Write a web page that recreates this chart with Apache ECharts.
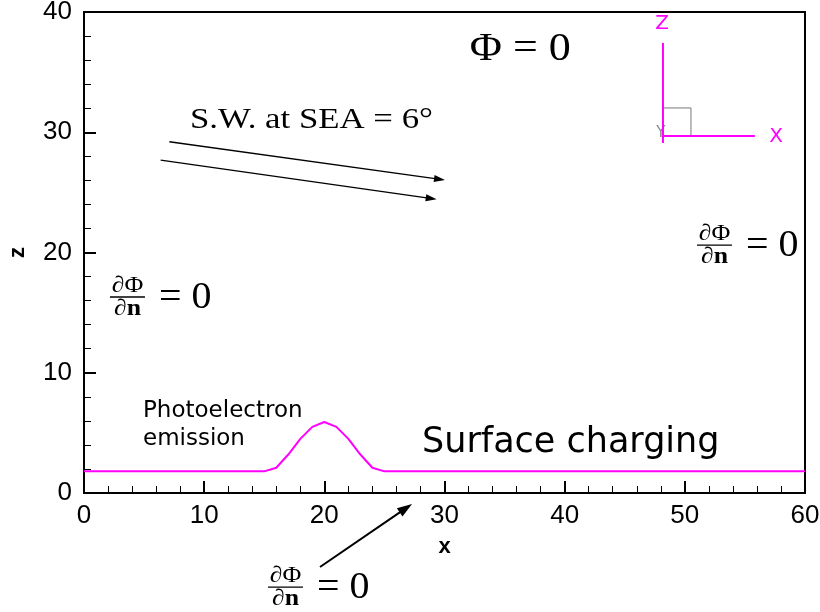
<!DOCTYPE html>
<html>
<head>
<meta charset="utf-8">
<script src="https://cdn.jsdelivr.net/npm/echarts@6/dist/echarts.min.js"></script>
<style>
  html, body { margin: 0; padding: 0; background: #fff; }
  #chart { width: 820px; height: 612px; }
</style>
</head>
<body>
<div id="chart"></div>
<script>
// Surface height z along x (emission bump centred at x = 20)
const xValues = [0, 15, 16, 17, 18, 19, 20, 21, 22, 23, 24, 25, 60];
const zValues = [1.8, 1.8, 2.1, 3.2, 4.5, 5.5, 5.9, 5.5, 4.5, 3.2, 2.1, 1.8, 1.8];

// Axis tick values
const xTicks = [0, 10, 20, 30, 40, 50, 60];
const zTicks = [0, 10, 20, 30, 40];

const SANS = '"Liberation Sans", Arial, sans-serif';
const SANS2 = '"DejaVu Sans", sans-serif';
const SERIF = '"Liberation Serif", "Times New Roman", serif';
const MAGENTA = '#ff00ff';

const surface = xValues.map((x, i) => [x, zValues[i]]);

function axisCommon(ticks, labelMargin) {
  return {
    min: ticks[0],
    max: ticks[ticks.length - 1],
    interval: ticks[1] - ticks[0],
    axisLine: { show: true, lineStyle: { color: '#000', width: 2 } },
    axisTick: { show: true, inside: true, length: 12, lineStyle: { color: '#000', width: 2 } },
    minorTick: { show: true, splitNumber: 5, length: 7, lineStyle: { color: '#000', width: 1 } },
    splitLine: { show: false },
    minorSplitLine: { show: false },
    axisLabel: { color: '#000', fontFamily: SANS, fontSize: 26, margin: labelMargin }
  };
}

const chart = echarts.init(document.getElementById('chart'), null, { renderer: 'canvas' });

chart.setOption({
  animation: false,
  backgroundColor: '#fff',
  grid: {
    left: 84, right: 15, top: 12, bottom: 119,
    containLabel: false,
    outerBoundsMode: 'none',
    show: true, borderColor: '#000', borderWidth: 2, backgroundColor: 'transparent'
  },
  xAxis: Object.assign({
    type: 'value',
    name: 'x',
    nameLocation: 'middle',
    nameGap: 43,
    nameTextStyle: { fontFamily: SANS, fontWeight: 'bold', fontSize: 22, color: '#000' }
  }, axisCommon(xTicks, 10)),
  yAxis: Object.assign({
    type: 'value',
    name: 'z',
    nameLocation: 'middle',
    nameGap: 55,
    nameTextStyle: { fontFamily: SANS, fontWeight: 'bold', fontSize: 22, color: '#000' }
  }, axisCommon(zTicks, 12)),
  series: [{
    type: 'line',
    data: surface,
    showSymbol: false,
    symbol: 'none',
    smooth: false,
    lineStyle: { color: MAGENTA, width: 2, join: 'round' },
    z: 5
  }]
});

// Annotation overlay, anchored in data units
const P = (x, y) => chart.convertToPixel({ gridIndex: 0 }, [x, y]);

function arrow(a, b, headLen, headHalf, width) {
  const p0 = P(a[0], a[1]);
  const p1 = P(b[0], b[1]);
  const dx = p1[0] - p0[0], dy = p1[1] - p0[1];
  const len = Math.hypot(dx, dy);
  const ux = dx / len, uy = dy / len;
  const bx = p1[0] - ux * headLen, by = p1[1] - uy * headLen;
  return [
    { type: 'line', shape: { x1: p0[0], y1: p0[1], x2: bx + ux, y2: by + uy },
      style: { stroke: '#000', lineWidth: width }, z: 20 },
    { type: 'polygon', shape: { points: [
        [p1[0], p1[1]],
        [bx - uy * headHalf, by + ux * headHalf],
        [bx + uy * headHalf, by - ux * headHalf]
      ] }, style: { fill: '#000' }, z: 20 }
  ];
}

function fraction(a) {
  const p = P(a[0], a[1]);
  const w = 35;
  return {
    type: 'group', x: p[0], y: p[1], z: 20,
    children: [
      { type: 'text', x: w / 2, y: -11, scaleX: 1.12,
        style: { text: '∂Φ', fontFamily: SERIF, fontSize: 23, fill: '#000',
                 align: 'center', verticalAlign: 'middle' } },
      { type: 'line', shape: { x1: 0, y1: 0, x2: w, y2: 0 },
        style: { stroke: '#000', lineWidth: 1.3 } },
      { type: 'text', x: w / 2, y: 12, scaleX: 1.12,
        style: { text: '{d|∂}{n|n}', align: 'center', verticalAlign: 'middle', fill: '#000',
                 rich: {
                   d: { fontFamily: SERIF, fontSize: 23, color: '#000' },
                   n: { fontFamily: SERIF, fontSize: 23, fontWeight: 'bold', color: '#000' }
                 } } },
      { type: 'text', x: w + 14, y: 1, scaleX: 1.08,
        style: { text: '= 0', fontFamily: SERIF, fontSize: 37, fill: '#000',
                 align: 'left', verticalAlign: 'middle' } }
    ]
  };
}

function label(a, text, font, size, color, align, sx) {
  const p = P(a[0], a[1]);
  return { type: 'text', x: p[0], y: p[1], z: 20, scaleX: sx || 1,
    style: { text: text, fontFamily: font, fontSize: size, fill: color || '#000',
             align: align || 'left', verticalAlign: 'middle' } };
}

// Coordinate triad (x, y, z directions)
const o = P(48.18, 29.69);
const zTop = P(48.18, 37.42);
const xEnd = P(55.83, 29.69);
const sq = P(50.51, 32.02);

const graphics = [].concat(
  [
    label([32.1, 36.84], 'Φ = 0', SERIF, 40, '#000', 'left', 1.1),
    label([8.82, 31.02], 'S.W. at SEA = 6°', SERIF, 30, '#000', 'left', 1.16),
    label([4.91, 6.85], 'Photoelectron', SANS2, 23),
    label([4.91, 4.45], 'emission', SANS2, 23),
    label([28.13, 4.2], 'Surface charging', SANS2, 35)
  ],
  arrow([7.10, 29.21], [30.04, 26.03], 11, 3.5, 1.3),
  arrow([6.38, 27.69], [29.35, 24.42], 11, 3.5, 1.3),
  arrow([19.64, -6.15], [27.30, -0.91], 15, 5, 2),
  [
    fraction([2.16, 16.3]),
    fraction([51.01, 20.62]),
    fraction([15.31, -7.82]),
    { type: 'rect', shape: { x: o[0], y: sq[1], width: sq[0] - o[0], height: o[1] - sq[1] },
      style: { fill: 'none', stroke: '#777', lineWidth: 1 }, z: 18 },
    label([48.0, 29.95], 'Y', SANS2, 15, '#888', 'center'),
    { type: 'line', shape: { x1: o[0], y1: zTop[1], x2: o[0], y2: o[1] + 7 },
      style: { stroke: MAGENTA, lineWidth: 2 }, z: 21 },
    { type: 'line', shape: { x1: o[0], y1: o[1], x2: xEnd[0], y2: o[1] },
      style: { stroke: MAGENTA, lineWidth: 2 }, z: 21 },
    label([48.1, 39.05], 'Z', SANS2, 20, MAGENTA, 'center'),
    label([57.6, 29.6], 'X', SANS2, 20, MAGENTA, 'center')
  ]
);

chart.setOption({ graphic: graphics });
</script>
</body>
</html>
